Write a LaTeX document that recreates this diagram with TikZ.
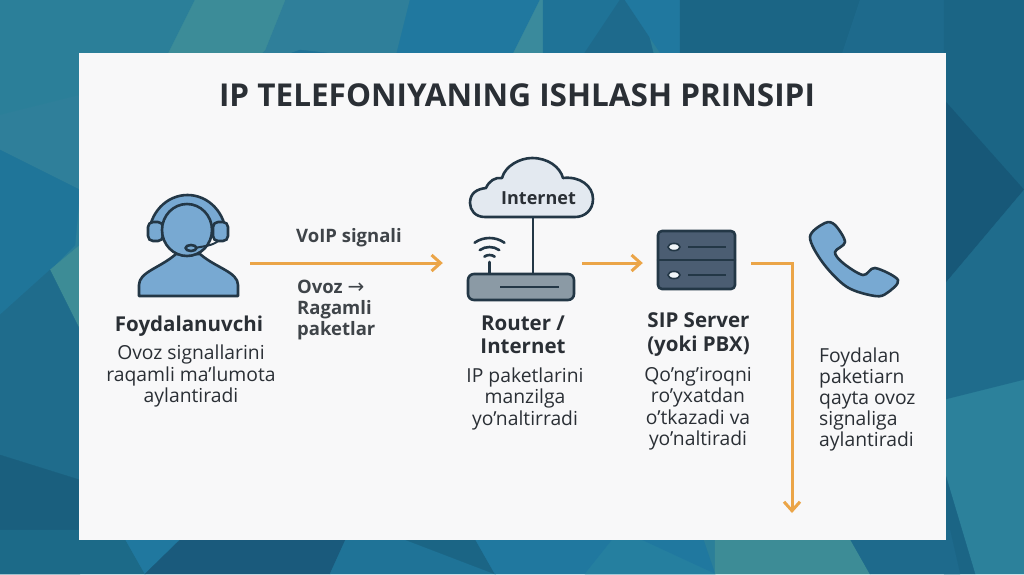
\documentclass[tikz,border=0pt]{standalone}
\usepackage{fontspec}
\setmainfont{Open Sans}
\newfontfamily\symfont{DejaVu Sans}
\usetikzlibrary{arrows.meta}
\definecolor{ink}{HTML}{2A2F35}
\definecolor{iconline}{HTML}{233746}
\definecolor{iconblue}{HTML}{78A9D2}
\definecolor{flow}{HTML}{EBA548}
\definecolor{panel}{HTML}{F8F8F9}
\definecolor{cloudfill}{HTML}{E3E9F0}
\definecolor{routerfill}{HTML}{8B9AA5}
\definecolor{serverfill}{HTML}{4B5D72}
\definecolor{fa}{HTML}{2B7F99}\definecolor{fb}{HTML}{3C8C98}\definecolor{fc}{HTML}{2F7F9A}
\definecolor{fd}{HTML}{1F7296}\definecolor{fe}{HTML}{20789F}\definecolor{ff}{HTML}{3A8A9C}
\definecolor{fg}{HTML}{1F7397}\definecolor{fh}{HTML}{1E6A8C}\definecolor{fi}{HTML}{1B6585}
\definecolor{fj}{HTML}{1A5A7C}\definecolor{fk}{HTML}{175878}\definecolor{fl}{HTML}{2C819B}
\definecolor{fm}{HTML}{1F6C8C}\definecolor{fn}{HTML}{1A5F7E}\definecolor{fo}{HTML}{1C6A88}
\definecolor{fp}{HTML}{257F9F}\definecolor{fq}{HTML}{3D8C96}\definecolor{fr}{HTML}{1F7599}
\tikzset{
  x=1pt,y=-1pt,
  heading/.style={font=\bfseries\fontsize{31.5}{36}\selectfont,text=ink,inner sep=0pt},
  stagename/.style={font=\bfseries\fontsize{20.5}{23}\selectfont,text=ink,align=center,inner sep=0pt,anchor=north},
  stagetext/.style={font=\fontsize{19.3}{21.5}\selectfont,text=ink,align=center,inner sep=0pt,anchor=north},
  lefttext/.style={font=\fontsize{19.3}{21}\selectfont,text=ink,align=left,inner sep=0pt,anchor=north west},
  midtext/.style={font=\bfseries\fontsize{18.5}{21}\selectfont,text=ink!90!white,align=left,inner sep=0pt,anchor=north west},
  hit/.style={inner sep=0pt,minimum height=10pt},
  flowline/.style={draw=flow,line width=3pt,-{Straight Barb[length=9pt,width=16pt,line width=3pt]}},
  iconstroke/.style={draw=iconline,line width=2.6pt,line join=round,line cap=round},
  facet/.style={fill=#1,draw=#1,line width=.3pt}
}
\begin{document}
\begin{tikzpicture}
\useasboundingbox (0,0) rectangle (1024,574);
% background facets
\fill[fa] (0,0) rectangle (1024,574);
\path[facet=fa] (0,0) -- (195,0) -- (165,60) -- (0,115) -- cycle;
\path[facet=fb] (165,60) -- (195,0) -- (240,0) -- (255,60) -- cycle;
\path[facet=fc] (240,0) -- (410,0) -- (385,100) -- (245,70) -- cycle;
\path[facet=fb] (235,0) -- (285,0) -- (265,50) -- (245,70) -- cycle;
\path[facet=fd] (245,70) -- (385,100) -- (390,60) -- (300,50) -- cycle;
\path[facet=fe] (410,0) -- (540,0) -- (510,60) -- (385,100) -- cycle;
\path[facet=ff] (540,0) -- (510,60) -- (543,60) -- (543,0) -- cycle;
\path[facet=fg] (543,0) -- (620,0) -- (580,60) -- (543,60) -- cycle;
\path[facet=fh] (620,0) -- (640,0) -- (655,60) -- (580,60) -- cycle;
\path[facet=fe] (625,0) -- (680,0) -- (680,60) -- (665,60) -- cycle;
\path[facet=fi] (680,0) -- (860,0) -- (840,60) -- (680,60) -- cycle;
\path[facet=fh] (860,0) -- (945,0) -- (990,60) -- (840,60) -- cycle;
\path[facet=fj] (945,0) -- (1024,0) -- (1024,60) -- (990,60) -- cycle;
\path[facet=fc] (0,115) -- (80,95) -- (80,190) -- (0,150) -- cycle;
\path[facet=fr] (0,150) -- (80,190) -- (75,245) -- (50,270) -- (0,315) -- cycle;
\path[facet=fq] (50,270) -- (80,245) -- (80,330) -- cycle;
\path[facet=fm] (0,315) -- (50,270) -- (80,330) -- (80,480) -- (0,455) -- cycle;
\path[facet=fn] (0,455) -- (80,480) -- (80,574) -- (0,574) -- cycle;
\path[facet=fi] (944,0) -- (1024,0) -- (1024,200) -- (944,285) -- cycle;
\path[facet=fk] (944,100) -- (1024,190) -- (950,285) -- (944,285) -- cycle;
\path[facet=fm] (944,285) -- (1024,190) -- (1024,380) -- (944,400) -- cycle;
\path[facet=fl] (944,400) -- (1024,380) -- (1024,574) -- (975,574) -- (944,470) -- cycle;
\path[facet=fi] (944,470) -- (975,574) -- (944,574) -- cycle;
\path[facet=fo] (0,530) -- (120,530) -- (145,574) -- (0,574) -- cycle;
\path[facet=fe] (120,530) -- (190,530) -- (145,574) -- cycle;
\path[facet=fj] (190,530) -- (350,530) -- (330,574) -- (145,574) -- cycle;
\path[facet=fg] (350,530) -- (330,574) -- (495,574) -- (480,530) -- cycle;
\path[facet=fi] (380,530) -- (470,530) -- (495,574) -- cycle;
\path[facet=fe] (470,530) -- (700,530) -- (715,574) -- (495,574) -- cycle;
\path[facet=fp] (620,530) -- (715,574) -- (585,574) -- cycle;
\path[facet=fq] (715,530) -- (845,530) -- (870,574) -- (715,574) -- cycle;
\path[facet=fh] (845,530) -- (950,530) -- (960,574) -- (870,574) -- cycle;
% panel
\fill[panel] (79,53) rectangle (946,540);
% title
\node[heading] (title) at (517,95) {IP TELEFONIYANING ISHLASH PRINSIPI};
% user icon
\draw[iconstroke,fill=iconblue] (149,236) arc[start angle=180,end angle=360,x radius=38.5,y radius=41] -- cycle;
\draw[iconstroke,fill=iconblue,rounded corners=5pt] (148,222) rectangle (163,241);
\draw[iconstroke,fill=iconblue,rounded corners=5pt] (213,222) rectangle (228,241);
\draw[iconstroke,fill=iconblue] (139,296) -- (139,285) .. controls (139,272) and (160,268) .. (176,254) -- (200,254) .. controls (216,268) and (238,272) .. (238,285) -- (238,296) -- cycle;
\draw[iconstroke,fill=iconblue] (187,230) ellipse[x radius=25,y radius=26];
\draw[draw=iconline,line width=2pt,line cap=round] (218,241) .. controls (212,246) and (204,246) .. (195,248);
\draw[iconstroke,fill=iconblue] (191,248) ellipse[x radius=5.5,y radius=3];
% router icon
\draw[iconstroke,fill=cloudfill] (485,217) .. controls (475,217) and (470,210) .. (470,203) .. controls (470,193) and (477,189) .. (486,188) .. controls (489,181) and (495,177) .. (502,178) .. controls (505,166) and (520,158) .. (532,158) .. controls (548,158) and (560,167) .. (563,178) .. controls (580,176) and (593,186) .. (593,199) .. controls (593,210) and (585,217) .. (575,217) -- cycle;
\node[font=\bfseries\fontsize{18}{22}\selectfont,text=ink,inner sep=0pt] (cloudlabel) at (538.5,198) {Internet};
\draw[iconstroke] (533,218) -- (533,273);
\draw[iconstroke] (489.5,262) -- (489.5,273);
\draw[iconstroke] (489.5,264) ++(235:9) arc[start angle=235,end angle=305,radius=9];
\draw[iconstroke] (489.5,264) ++(235:17) arc[start angle=235,end angle=305,radius=17];
\draw[iconstroke] (489.5,264) ++(235:26) arc[start angle=235,end angle=305,radius=26];
\draw[iconstroke,fill=routerfill,rounded corners=6pt] (468,274) rectangle (574,300);
\draw[draw=iconline,line width=2.6pt] (500,287) -- (559,287);
% server icon
\draw[iconstroke,fill=serverfill,rounded corners=4pt] (658,231) rectangle (735,289);
\draw[iconstroke] (658,260) -- (735,260);
\foreach \yy in {247,275}{
  \fill[white!90!iconblue,draw=iconline,line width=1.6pt] (674,\yy) ellipse[x radius=6,y radius=3.6];
  \draw[iconline,line width=2.4pt] (688,\yy) -- (726,\yy);
}
% phone icon
\draw[iconstroke,fill=iconblue] plot[smooth cycle,tension=.55] coordinates {(810,237) (825,223) (835,225) (845,242) (835,252) (843,263) (863,275) (875,268) (898,280) (887,293) (875,296) (847,287) (823,263)};
% anchor boxes for the connectors
\node[hit,minimum width=112pt] (user) at (194,263) {};
\node[hit,minimum width=139pt] (router) at (512.5,263) {};
\node[hit,minimum width=108pt] (server) at (697,263) {};
\coordinate (sink) at (792,513);
\draw[flowline] (user) -- (router);
\draw[flowline] (router) -- (server);
\draw[flowline] (server.east) -| (sink);
% labels
\node[stagename] (username) at (189,316) {Foydalanuvchi};
\node[stagetext] (usertext) at (191,345) {Ovoz signallarini\\raqamli ma’lumota\\aylantiradi};
\node[midtext] (voip) at (296,228) {VoIP signali};
\node[midtext] (ovoz) at (297,280) {Ovoz {\symfont\mdseries\fontsize{20}{21}\selectfont →}\\Ragamli\\paketlar};
\node[stagename] (routername) at (523,316) {Router /\\Internet};
\node[stagetext] (routertext) at (525,367.5) {IP paketlarini\\manzilga\\yo’naltirradi};
\node[stagename,font=\bfseries\fontsize{20.5}{24}\selectfont] (servername) at (698.5,312.5) {SIP Server\\(yoki PBX)};
\node[stagetext] (servertext) at (698,367) {Qo’ng’iroqni\\ro’yxatdan\\o’tkazadi va\\yo’naltiradi};
\node[lefttext] (phonetext) at (819,348) {Foydalan\\paketiarn\\qayta ovoz\\signaliga\\aylantiradi};
\end{tikzpicture}
\end{document}
